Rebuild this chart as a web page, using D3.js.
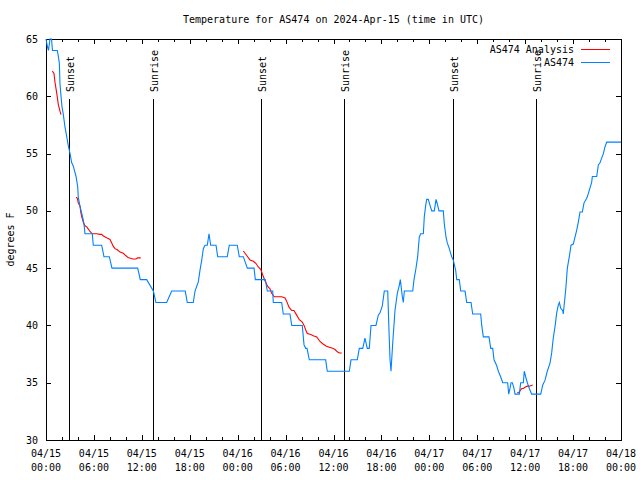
<!DOCTYPE html>
<html><head><meta charset="utf-8">
<script src="https://cdn.jsdelivr.net/npm/d3@7"></script>
<style>
body{margin:0;background:#fff}
text{font-family:"DejaVu Sans Mono","Liberation Mono",monospace;font-size:10px;fill:#000}
</style>
</head><body><svg id="c" width="640" height="480"></svg>
<script>
// ---- data ----
const startUTC = Date.UTC(2024, 3, 15, 0, 0);
const titleText = "Temperature for AS474 on 2024-Apr-15 (time in UTC)";
const yLabel = "degrees F";
const seriesNames = ["AS474 Analysis", "AS474"];

// observed temperature (hours after 04/15 00:00 UTC, deg F)
const obsHours = [0,0.19,0.31,0.50,0.69,0.81,1.42,1.54,1.67,1.75,1.88,2.00,2.17,2.38,2.59,2.79,3.01,3.22,3.42,3.76,3.97,4.04,4.26,4.47,4.67,4.80,4.88,5.80,5.92,6.97,7.26,7.93,8.26,11.48,11.81,12.61,13.44,13.77,15.11,15.74,17.44,17.69,18.44,18.66,19.07,19.28,19.50,19.70,19.91,20.20,20.41,20.62,21.29,21.50,22.70,22.95,23.95,24.20,24.71,25.21,26.05,26.21,27.46,27.71,28.39,28.46,29.51,29.71,30.55,30.77,32.09,32.31,32.52,32.68,32.97,35.02,35.22,37.98,38.19,38.98,39.23,39.66,39.94,40.23,40.48,40.70,41.32,41.61,41.82,42.11,42.36,42.79,42.95,43.08,43.20,43.41,43.70,43.99,44.24,44.37,44.62,44.74,44.87,45.92,46.08,46.33,46.54,46.74,46.92,47.25,47.37,47.55,47.67,47.87,48.08,48.30,48.62,48.84,49.00,49.21,49.75,49.87,50.09,50.25,50.50,50.80,51.00,51.30,51.43,51.75,51.93,52.47,52.68,53.22,53.43,54.43,54.56,54.76,55.47,55.69,55.94,56.10,56.43,56.64,56.94,57.19,57.81,57.94,58.10,58.23,58.39,58.60,58.73,59.27,59.44,59.77,59.89,60.07,60.27,60.52,60.82,61.95,62.20,62.48,62.77,63.11,63.32,63.52,63.74,63.95,64.15,64.28,64.45,64.70,64.77,64.99,65.11,65.28,65.53,65.74,66.03,66.24,66.45,66.65,66.87,67.16,67.37,67.71,67.91,68.33,68.41,68.96,69.16,69.37,69.58,69.79,70.00,70.21,72.00];
const obsTemp = [65,64.3,64,65,65,64,64,63.5,62.9,61.1,60,59.1,58.4,57.3,56.5,55.7,55,54.2,53.9,53,52.1,51.2,50.4,49.8,49.2,48.6,48,48,47,47,46,46,45,45,44,44,43,42,42,43,43,42,42,43,43.8,44.8,45.7,46.7,47,47,48,47,47,46,46,47,47,46,46,45,45,44,44,43,43,42,42,41,41,40,40,38.3,38,38,37,37,36,36,37,37,38,38,38.9,38,38,40,40,40.9,41.1,41.7,43,43,39.5,37,36,38.4,41.3,42.8,43.5,44,42.5,42,43,43,44,45,46,47.7,48,48,49.5,50.5,51,51,50.5,50,50,51,50.6,50,50,48.9,47.7,47.2,46.7,46,45.7,44.8,44,44,43,43,42,42,41,41,40,39,39,38,38,37,36.5,36,35.5,35,35,34,34.5,35,35,34.5,34,34,35,35,36,35.5,35,34.5,34,34,34.8,35.2,36,36.7,37.6,38.9,39.9,41.1,41.8,42,41.5,41.3,41,42.5,43.4,45,46,47,47.1,47.7,48.3,49,49.9,49.9,50.7,51.1,51.5,52.5,53,53,54,54.2,54.6,55,55.6,56,56];

// analysis (null = gap between analysis runs)
const anaHours = [0.79,1.00,1.13,1.34,1.54,1.75,1.88,null,
 3.76,3.92,4.04,4.26,4.35,4.47,4.67,4.88,5.10,5.30,5.51,5.80,6.35,6.76,6.97,7.18,7.48,7.73,8.01,8.23,8.43,8.64,8.93,9.27,9.68,9.98,10.31,10.61,10.86,11.27,11.48,11.86,null,
 24.71,25.13,25.55,25.96,26.30,26.58,26.89,27.14,27.42,27.76,28.05,28.26,28.59,28.89,29.51,29.93,30.14,30.43,30.77,31.05,31.39,31.72,32.09,32.31,32.52,32.72,33.15,33.47,33.90,34.31,34.65,35.06,35.47,35.90,36.19,36.48,36.73,37.03,null,
 59.02,59.27,59.57,59.77,59.98,60.27,60.52,60.94];
const anaTemp = [62.2,62.0,61.2,60.3,59.3,58.7,58.4,null,
 51.2,51.1,50.7,50.4,49.9,49.5,49.0,48.7,48.6,48.4,48.2,48.0,48.0,47.95,47.95,47.8,47.7,47.6,47.5,47.2,46.9,46.7,46.6,46.4,46.3,46.1,45.9,45.86,45.8,45.8,45.9,45.9,null,
 46.5,46.1,45.7,45.6,45.4,45.1,44.9,44.4,43.9,43.4,43.2,42.8,42.5,42.5,42.5,42.4,42.1,41.6,41.3,41.3,40.9,40.5,40.3,40.0,39.6,39.3,39.2,39.1,39.0,38.6,38.4,38.2,38.1,38.0,37.9,37.7,37.6,37.6,null,
 34.1,34.2,34.5,34.5,34.6,34.7,34.7,34.8];

const sunHours = [2.92, 13.43, 26.95, 37.33, 50.98, 61.40];
const sunLabels = ["Sunset","Sunrise","Sunset","Sunrise","Sunset","Sunrise"];
const yTicks = [30,35,40,45,50,55,60,65];
const xMajorHours = [0,6,12,18,24,30,36,42,48,54,60,66,72];
const xMinorHours = d3.range(0,73,2);

// ---- drawing ----
const H = 3600*1000;
const toDate = h => new Date(startUTC + h*H);
const L = 46, R = 621, T = 39, B = 440;
const svg = d3.select("#c");
const x = d3.scaleUtc().domain([toDate(0), toDate(72)]).range([L, R]);
const y = d3.scaleLinear().domain([30, 65]).range([B, T]);
const ink = "#000";

// title
svg.append("text").attr("x", (L+R)/2).attr("y", 19).attr("text-anchor","middle")
  .attr("dominant-baseline","central").text(titleText);

// y label
svg.append("text").attr("transform", `translate(10,${(T+B)/2}) rotate(-90)`)
  .attr("text-anchor","middle").attr("dominant-baseline","central").text(yLabel);

const g = svg.append("g").attr("shape-rendering","crispEdges");

// x ticks (inward, mirrored)
xMinorHours.forEach(h => {
  const major = h % 6 === 0;
  const len = major ? 5 : 3;
  const px = Math.round(x(toDate(h))) + 0.5;
  g.append("line").attr("x1",px).attr("x2",px).attr("y1",B).attr("y2",B-len).attr("stroke",ink);
  g.append("line").attr("x1",px).attr("x2",px).attr("y1",T).attr("y2",T+len).attr("stroke",ink);
});
const fmtD = d3.utcFormat("%m/%d"), fmtT = d3.utcFormat("%H:%M");
xMajorHours.forEach(h => {
  const d = toDate(h);
  const t = svg.append("text").attr("x", x(d)).attr("text-anchor","middle");
  t.append("tspan").attr("x", x(d)).attr("y", 457).text(fmtD(d));
  t.append("tspan").attr("x", x(d)).attr("y", 471).text(fmtT(d));
});

// y ticks
yTicks.forEach(v => {
  const py = Math.round(y(v)) + 0.5;
  g.append("line").attr("x1",L).attr("x2",L+5).attr("y1",py).attr("y2",py).attr("stroke",ink);
  g.append("line").attr("x1",R).attr("x2",R-5).attr("y1",py).attr("y2",py).attr("stroke",ink);
  svg.append("text").attr("x", 38).attr("y", y(v)).attr("text-anchor","end")
    .attr("dominant-baseline","central").text(v);
});

// sunrise / sunset markers
sunHours.forEach((h, i) => {
  const px = Math.round(x(toDate(h))) + 0.5;
  g.append("line").attr("x1",px).attr("x2",px).attr("y1", y(30 + 0.85*35)).attr("y2", B)
    .attr("stroke", ink);
  svg.append("text").attr("transform", `translate(${px+1},92) rotate(-90)`)
    .attr("text-anchor","start").attr("dominant-baseline","central").text(sunLabels[i]);
});

// series
const obs = obsHours.map((h,i) => ({d: toDate(h), v: obsTemp[i]}));
const ana = anaHours.map((h,i) => ({d: h == null ? null : toDate(h), v: anaTemp[i]}));
const line = d3.line().defined(p => p.d != null && p.v != null).x(p => x(p.d)).y(p => y(p.v));
const blue = "#0080ff", red = "#ff0000";
svg.append("path").datum(ana).attr("d", line).attr("fill","none").attr("stroke",red).attr("stroke-width",1.1);
svg.append("path").datum(obs).attr("d", line).attr("fill","none").attr("stroke",blue).attr("stroke-width",1.1);

// legend
[[seriesNames[0], red, 49.5], [seriesNames[1], blue, 62.5]].forEach(([name, col, ly]) => {
  svg.append("text").attr("x", 574).attr("y", ly).attr("text-anchor","end")
    .attr("dominant-baseline","central").text(name);
  svg.append("line").attr("x1",581).attr("x2",610).attr("y1",ly).attr("y2",ly)
    .attr("stroke",col).attr("stroke-width",1).attr("shape-rendering","crispEdges");
});

// frame
g.append("rect").attr("x", L+0.5).attr("y", T+0.5).attr("width", R-L).attr("height", B-T)
  .attr("fill","none").attr("stroke",ink);
</script>
</body></html>
